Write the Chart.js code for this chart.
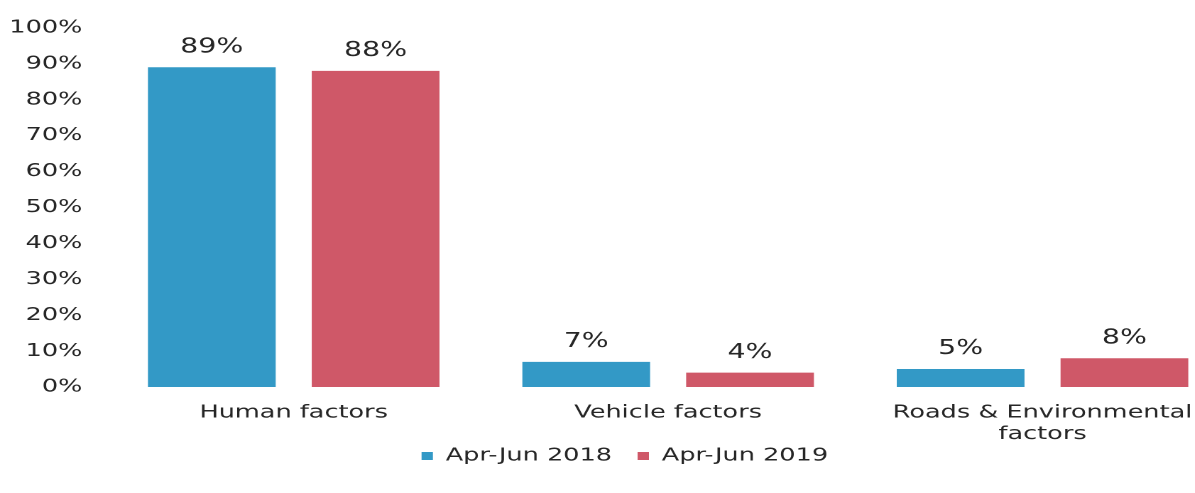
<!DOCTYPE html>
<html>
<head>
<meta charset="utf-8">
<script src="https://cdn.jsdelivr.net/npm/chart.js@4.4.1/dist/chart.umd.min.js"></script>
<style>
  html, body { margin: 0; padding: 0; background: #fff; overflow: hidden; }
  /* the scanned original has wide, Verdana-like lettering: stretch the drawing sideways */
  #wrap { width: 866px; height: 493px; transform: scaleX(1.42); transform-origin: 0 0; }
</style>
</head>
<body>
<div id="wrap"><canvas id="factorsChart"></canvas></div>
<script>
// --- data ---
const categories = [['Human factors'], ['Vehicle factors'], ['Roads & Environmental', 'factors']];
const seriesNames = ['Apr-Jun 2018', 'Apr-Jun 2019'];
const values2018 = [89, 7, 5];
const values2019 = [88, 4, 8];
const yTicks = [0, 10, 20, 30, 40, 50, 60, 70, 80, 90, 100];

const textColor = '#262626';
const fontFamily = '"DejaVu Sans", Verdana, sans-serif';
const font = { family: fontFamily, size: 18 };

// draw the % value above each bar
const barLabels = {
    id: 'barLabels',
    afterDatasetsDraw(chart) {
        const ctx = chart.ctx;
        ctx.save();
        ctx.font = `20px ${fontFamily}`;
        ctx.fillStyle = textColor;
        ctx.textAlign = 'center';
        ctx.textBaseline = 'bottom';
        chart.data.datasets.forEach((ds, i) => {
            chart.getDatasetMeta(i).data.forEach((bar, j) => {
                ctx.fillText(ds.data[j] + '%', bar.x, bar.y - 10);
            });
        });
        ctx.restore();
    }
};

// legend sits tight under the axis labels in the original
const legendNudge = {
    id: 'legendNudge',
    afterLayout(chart) {
        const lg = chart.legend;
        lg.top -= 16; lg.bottom -= 16;
        lg.left += 7; lg.right += 7;
    }
};

const initChart = () => {
    const ctx = document.getElementById('factorsChart');
    new Chart(ctx, {
        type: 'bar',
        data: {
            labels: categories,
            datasets: [
                { label: seriesNames[0], data: values2018, backgroundColor: '#3399c6' },
                { label: seriesNames[1], data: values2019, backgroundColor: '#cf5868' }
            ]
        },
        options: {
            responsive: true,
            maintainAspectRatio: false,
            animation: false,
            devicePixelRatio: 2,
            categoryPercentage: 0.875,
            barPercentage: 0.78,
            layout: { padding: { top: 10, left: 0, right: 0, bottom: 2 } },
            scales: {
                x: {
                    grid: { display: false, drawTicks: false },
                    border: { display: false },
                    ticks: { color: textColor, font: font, padding: 15, maxRotation: 0 },
                    afterFit: (scale) => { scale.height = 58; }
                },
                y: {
                    min: 0,
                    max: 100,
                    afterBuildTicks: (scale) => { scale.ticks = yTicks.map(v => ({ value: v })); },
                    afterFit: (scale) => { scale.width = 75; },
                    grid: { display: false, drawTicks: false },
                    border: { display: false },
                    ticks: { color: textColor, font: font, padding: 17, callback: (v) => v + '%' }
                }
            },
            plugins: {
                legend: {
                    position: 'bottom',
                    labels: {
                        color: textColor,
                        font: font,
                        usePointStyle: true,
                        pointStyle: 'rect',
                        boxWidth: 8,
                        boxHeight: 8,
                        padding: 18
                    }
                },
                tooltip: { enabled: false }
            }
        },
        plugins: [barLabels, legendNudge]
    });
};

document.addEventListener('DOMContentLoaded', initChart);
</script>
</body>
</html>
